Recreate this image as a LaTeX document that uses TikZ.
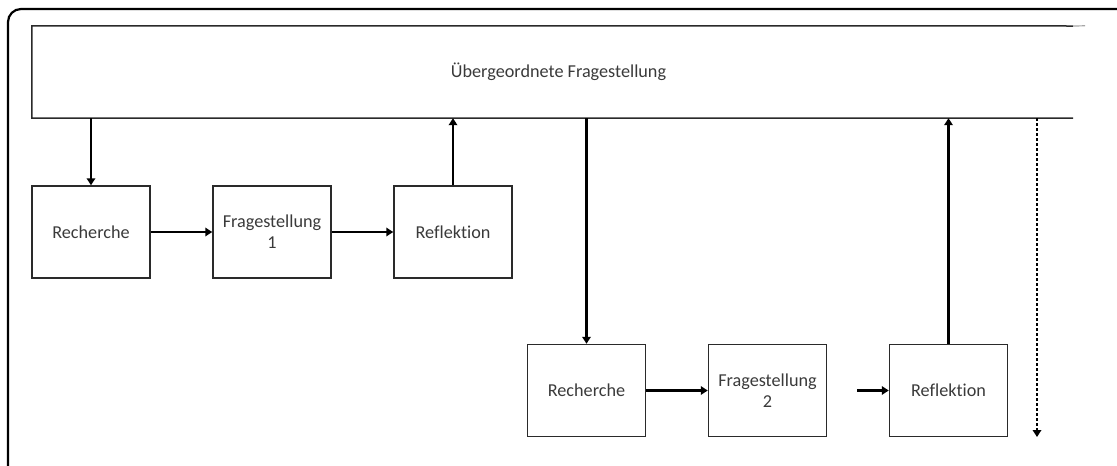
\documentclass[tikz,border=0pt]{standalone}
\usepackage{fontspec}
\setmainfont{Carlito}[Ligatures=NoCommon]
\usetikzlibrary{arrows.meta}
\definecolor{ink}{HTML}{3A3A3A}
\definecolor{rule}{HTML}{2A2A2A}
\tikzset{
  stepbox/.style={draw=rule, line width=1.5pt, minimum width=118pt, minimum height=92pt,
    text=ink, align=center, inner sep=0pt, font=\fontsize{18.2}{21}\selectfont},
  arr/.style={line width=2.6pt, draw=black, -{Triangle[length=7pt,width=8.5pt]}},
  dotarr/.style={arr, dash pattern=on 2.5pt off 2.5pt},
}
\begin{document}
\begin{tikzpicture}[x=1pt,y=-1pt]
  \useasboundingbox (0,0) rectangle (1117,466);
  \begin{scope}
    \clip (0,0) rectangle (1117,466);
    % outer frame, only the upper left part lies inside the page
    \draw[line width=2.2pt, draw=black, rounded corners=13pt] (8,480) -- (8,9) -- (1130,9);
  \end{scope}

  % overarching question: a band that is open on its right side
  \node[minimum width=1053pt, minimum height=92pt, inner sep=0pt, text=ink,
        font=\fontsize{18.2}{21}\selectfont] (main) at (558.5,72) {Übergeordnete Fragestellung};
  \draw[line width=1.5pt, draw=rule] (1073,26) -- (main.north west) -- (main.south west) -- (1073,118);
  \draw[line width=1.2pt, draw=black!35] (1073,26) -- (main.north east);

  % first cycle
  \node[stepbox] (rech1) at (91,232) {Recherche};
  \node[stepbox] (frag1) at (272,232) {Fragestellung\\1};
  \node[stepbox] (refl1) at (453,232) {Reflektion};

  % second cycle
  \node[stepbox] (rech2) at (586.5,390.5) {Recherche};
  \node[stepbox] (frag2) at (767.5,390.5) {Fragestellung\\2};
  \node[stepbox] (refl2) at (948.5,390.5) {Reflektion};

  \coordinate (gap) at (857,390.5);
  \coordinate (more) at (1037,437);

  \draw[arr] (main.south -| rech1.north) -- (rech1.north);
  \draw[arr] (rech1) -- (frag1);
  \draw[arr] (frag1) -- (refl1);
  \draw[arr] (refl1.north) -- (main.south -| refl1.north);

  \draw[arr] (main.south -| rech2.north) -- (rech2.north);
  \draw[arr] (rech2) -- (frag2);
  \draw[arr] (gap) -- (refl2);
  \draw[arr] (refl2.north) -- (main.south -| refl2.north);

  \draw[dotarr] (main.south -| more) -- (more);
\end{tikzpicture}
\end{document}
